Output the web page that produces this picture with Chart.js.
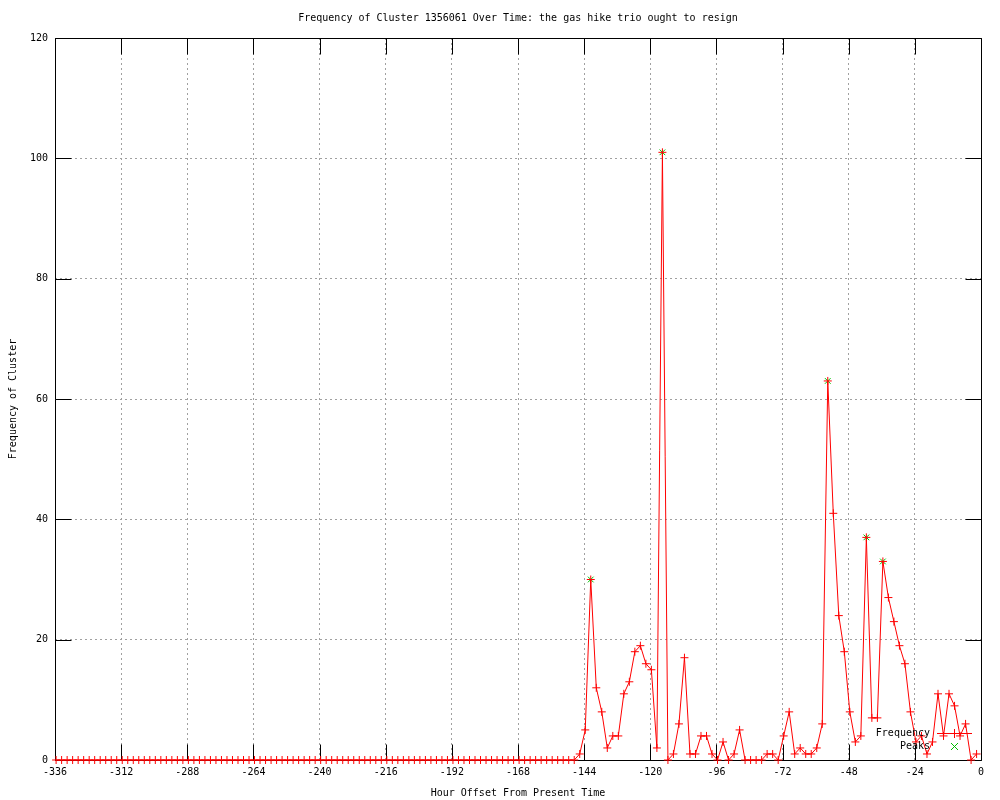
<!DOCTYPE html>
<html>
<head>
<meta charset="utf-8">
<script src="https://cdn.jsdelivr.net/npm/chart.js@4"></script>
<style>
  body { margin: 0; background: #fff; }
  #wrap { width: 1000px; height: 800px; position: relative; }
</style>
</head>
<body>
<div id="wrap"><canvas id="freqChart"></canvas></div>
<script>
// hour offsets of each sample (one every 2 hours)
let hours = [
  -335.6, -333.6, -331.6, -329.6, -327.6, -325.6, -323.6, -321.6, -319.6, -317.6, -315.6, -313.6,
  -311.6, -309.6, -307.6, -305.6, -303.6, -301.6, -299.6, -297.6, -295.6, -293.6, -291.6, -289.6,
  -287.6, -285.6, -283.6, -281.6, -279.6, -277.6, -275.6, -273.6, -271.6, -269.6, -267.6, -265.6,
  -263.6, -261.6, -259.6, -257.6, -255.6, -253.6, -251.6, -249.6, -247.6, -245.6, -243.6, -241.6,
  -239.6, -237.6, -235.6, -233.6, -231.6, -229.6, -227.6, -225.6, -223.6, -221.6, -219.6, -217.6,
  -215.6, -213.6, -211.6, -209.6, -207.6, -205.6, -203.6, -201.6, -199.6, -197.6, -195.6, -193.6,
  -191.6, -189.6, -187.6, -185.6, -183.6, -181.6, -179.6, -177.6, -175.6, -173.6, -171.6, -169.6,
  -167.6, -165.6, -163.6, -161.6, -159.6, -157.6, -155.6, -153.6, -151.6, -149.6, -147.6, -145.6,
  -143.6, -141.6, -139.6, -137.6, -135.6, -133.6, -131.6, -129.6, -127.6, -125.6, -123.6, -121.6,
  -119.6, -117.6, -115.6, -113.6, -111.6, -109.6, -107.6, -105.6, -103.6, -101.6, -99.6, -97.6,
  -95.6, -93.6, -91.6, -89.6, -87.6, -85.6, -83.6, -81.6, -79.6, -77.6, -75.6, -73.6,
  -71.6, -69.6, -67.6, -65.6, -63.6, -61.6, -59.6, -57.6, -55.6, -53.6, -51.6, -49.6,
  -47.6, -45.6, -43.6, -41.6, -39.6, -37.6, -35.6, -33.6, -31.6, -29.6, -27.6, -25.6,
  -23.6, -21.6, -19.6, -17.6, -15.6, -13.6, -11.6, -9.6, -7.6, -5.6, -3.6, -1.6
];

let frequency = [
  0, 0, 0, 0, 0, 0, 0, 0, 0, 0, 0, 0,
  0, 0, 0, 0, 0, 0, 0, 0, 0, 0, 0, 0,
  0, 0, 0, 0, 0, 0, 0, 0, 0, 0, 0, 0,
  0, 0, 0, 0, 0, 0, 0, 0, 0, 0, 0, 0,
  0, 0, 0, 0, 0, 0, 0, 0, 0, 0, 0, 0,
  0, 0, 0, 0, 0, 0, 0, 0, 0, 0, 0, 0,
  0, 0, 0, 0, 0, 0, 0, 0, 0, 0, 0, 0,
  0, 0, 0, 0, 0, 0, 0, 0, 0, 0, 0, 1,
  5, 30, 12, 8, 2, 4, 4, 11, 13, 18, 19, 16,
  15, 2, 101, 0, 1, 6, 17, 1, 1, 4, 4, 1,
  0, 3, 0, 1, 5, 0, 0, 0, 0, 1, 1, 0,
  4, 8, 1, 2, 1, 1, 2, 6, 63, 41, 24, 18,
  8, 3, 4, 37, 7, 7, 33, 27, 23, 19, 16, 8,
  3, 4, 1, 3, 11, 4, 11, 9, 4, 6, 0, 1
];

let peakHours = [-141.6, -115.6, -55.6, -41.6, -35.6];
let peakValues = [30, 101, 63, 37, 33];

let titleText = 'Frequency of Cluster 1356061 Over Time: the gas hike trio ought to resign';
let xTitle = 'Hour Offset From Present Time';
let yTitle = 'Frequency of Cluster';
let seriesNames = ['Frequency', 'Peaks'];

const FONT = "'DejaVu Sans Mono', monospace";
const RED = '#ff0000';
const GREEN = '#00c000';
const TIC = 16;

// gnuplot-like border, mirrored tics, title and key
const gnuplotFrame = {
  id: 'gnuplotFrame',
  beforeDatasetsDraw(chart) {
    const {ctx, chartArea: a, scales: {x, y}} = chart;
    let l = Math.round(a.left) + 0.5, r = Math.round(a.right) + 0.5;
    let t = Math.round(a.top) + 0.5, b = Math.round(a.bottom) + 0.5;
    ctx.save();
    ctx.strokeStyle = '#000';
    ctx.lineWidth = 1;
    ctx.beginPath();
    ctx.rect(l, t, r - l, b - t);
    x.ticks.forEach(tk => {
      let px = Math.round(x.getPixelForValue(tk.value)) + 0.5;
      ctx.moveTo(px, b); ctx.lineTo(px, b - TIC);
      ctx.moveTo(px, t); ctx.lineTo(px, t + TIC);
    });
    y.ticks.forEach(tk => {
      let py = Math.round(y.getPixelForValue(tk.value)) + 0.5;
      ctx.moveTo(l, py); ctx.lineTo(l + TIC, py);
      ctx.moveTo(r, py); ctx.lineTo(r - TIC, py);
    });
    ctx.stroke();

    ctx.fillStyle = '#000';
    ctx.font = '10px ' + FONT;
    ctx.textAlign = 'center';
    ctx.textBaseline = 'middle';
    ctx.fillText(titleText, (a.left + a.right) / 2, 18);
    ctx.restore();
  },
  afterDatasetsDraw(chart) {
    const {ctx} = chart;
    ctx.save();
    ctx.font = '10px ' + FONT;
    ctx.fillStyle = '#000';
    ctx.textAlign = 'right';
    ctx.textBaseline = 'middle';
    ctx.fillText(seriesNames[0], 930, 733);
    ctx.fillText(seriesNames[1], 930, 746);

    ctx.lineWidth = 1;
    ctx.strokeStyle = RED;
    ctx.beginPath();
    ctx.moveTo(937, 733.5); ctx.lineTo(972, 733.5);
    ctx.moveTo(954.5, 729); ctx.lineTo(954.5, 738);
    ctx.stroke();

    ctx.strokeStyle = GREEN;
    ctx.beginPath();
    ctx.moveTo(951, 743); ctx.lineTo(958, 750);
    ctx.moveTo(958, 743); ctx.lineTo(951, 750);
    ctx.stroke();
    ctx.restore();
  }
};

let freqPoints = hours.map((h, i) => ({x: h, y: frequency[i]}));
let peakPoints = peakHours.map((h, i) => ({x: h, y: peakValues[i]}));

let ctx = document.getElementById('freqChart').getContext('2d');
let freqChart = new Chart(ctx, {
  type: 'line',
  data: {
    datasets: [{
      label: seriesNames[0],
      data: freqPoints,
      borderColor: RED,
      backgroundColor: RED,
      borderWidth: 1,
      pointStyle: 'cross',
      pointRadius: 4,
      pointBorderColor: RED,
      pointBorderWidth: 1,
      tension: 0,
      clip: false
    }, {
      label: seriesNames[1],
      data: peakPoints,
      showLine: false,
      borderColor: GREEN,
      backgroundColor: GREEN,
      pointStyle: 'crossRot',
      pointRadius: 4,
      pointBorderWidth: 1,
      clip: false
    }]
  },
  plugins: [gnuplotFrame],
  options: {
    responsive: true,
    maintainAspectRatio: false,
    animation: false,
    layout: { padding: { top: 38, right: 19, left: 0, bottom: 0 } },
    plugins: {
      legend: { display: false },
      title: { display: false },
      tooltip: { enabled: false }
    },
    scales: {
      x: {
        type: 'linear',
        min: -336,
        max: 0,
        afterFit: s => { s.height = 40; },
        ticks: {
          stepSize: 24,
          padding: 6,
          color: '#000',
          maxRotation: 0,
          autoSkip: false,
          font: { family: FONT, size: 10 }
        },
        grid: { color: '#a0a0a0', lineWidth: 1, drawTicks: false },
        border: { display: false, dash: [2, 3] },
        title: {
          display: true,
          text: xTitle,
          color: '#000',
          font: { family: FONT, size: 10 },
          padding: { top: 0, bottom: 1 }
        }
      },
      y: {
        min: 0,
        max: 120,
        afterFit: s => { s.width = 55; },
        ticks: {
          stepSize: 20,
          padding: 7,
          color: '#000',
          font: { family: FONT, size: 10 }
        },
        grid: { color: '#a0a0a0', lineWidth: 1, drawTicks: false },
        border: { display: false, dash: [2, 3] },
        title: {
          display: true,
          text: yTitle,
          color: '#000',
          font: { family: FONT, size: 10 },
          padding: { top: 7, bottom: 0 }
        }
      }
    }
  }
});
</script>
</body>
</html>
